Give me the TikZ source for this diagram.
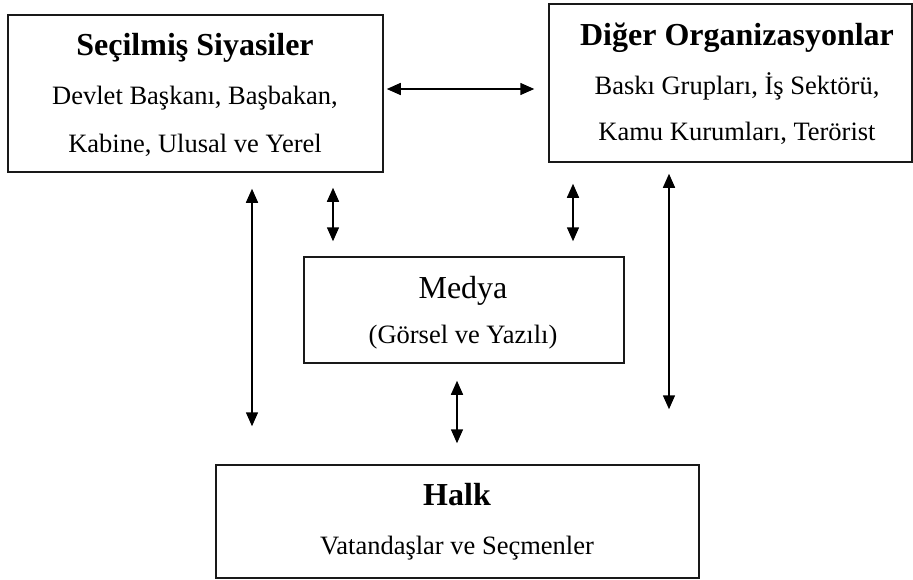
\documentclass[tikz,border=0pt]{standalone}
\usepackage{fontspec}
\setmainfont{Liberation Serif}
\usetikzlibrary{arrows.meta}

\begin{document}
\begin{tikzpicture}[x=1pt,y=-1pt,
  kutu/.style={draw=black!90, line width=1.5pt, rectangle, inner sep=0pt},
  baslik/.style={anchor=base, inner sep=0pt, font=\fontsize{32}{38}\selectfont\bfseries},
  medbaslik/.style={anchor=base, inner sep=0pt, font=\fontsize{32}{38}\selectfont},
  satir/.style={anchor=base, inner sep=0pt, font=\fontsize{26.5}{32}\selectfont},
  ikiyon/.style={line width=1.5pt, {Triangle[length=14pt,width=12pt]}-{Triangle[length=14pt,width=12pt]}}]
\useasboundingbox (0,0) rectangle (913,579);
% kutular
\node [kutu, minimum width=375, minimum height=157] (secil) at (195.5,93.5) {};
\node [kutu, minimum width=363, minimum height=158] (diger) at (730.5,83) {};
\node [kutu, minimum width=320, minimum height=106] (medya) at (464,310) {};
\node [kutu, minimum width=483, minimum height=113] (halk) at (457.5,521.5) {};
% yazilar
\node [baslik] (secilB) at (195,55) {Seçilmiş Siyasiler};
\node [satir] (secil1) at (195,104) {Devlet Başkanı, Başbakan,};
\node [satir] (secil2) at (195,152) {Kabine, Ulusal ve Yerel};
\node [baslik] (digerB) at (737,45) {Diğer Organizasyonlar};
\node [satir] (diger1) at (737,94) {Baskı Grupları, İş Sektörü,};
\node [satir] (diger2) at (737,140) {Kamu Kurumları, Terörist};
\node [medbaslik] (medyaB) at (463,298) {Medya};
\node [satir] (medya1) at (463,343) {(Görsel ve Yazılı)};
\node [baslik] (halkB) at (457,505) {Halk};
\node [satir] (halk1) at (457,554) {Vatandaşlar ve Seçmenler};
% oklar
\draw [ikiyon, shorten <=3pt, shorten >=14pt] (secil.east |- 0,89) -- (diger.west |- 0,89);
\draw [ikiyon, shorten <=16pt, shorten >=38pt] (secil.south -| 252,0) -- (halk.north -| 252,0);
\draw [ikiyon, shorten <=15pt, shorten >=15pt] (secil.south -| 333,0) -- (medya.north -| 333,0);
\draw [ikiyon, shorten <=21pt, shorten >=15pt] (diger.south -| 573,0) -- (medya.north -| 573,0);
\draw [ikiyon, shorten <=11pt, shorten >=55pt] (diger.south -| 669,0) -- (halk.north -| 669,0);
\draw [ikiyon, shorten <=17pt, shorten >=21pt] (medya.south -| 457,0) -- (halk.north -| 457,0);
\end{tikzpicture}
\end{document}
